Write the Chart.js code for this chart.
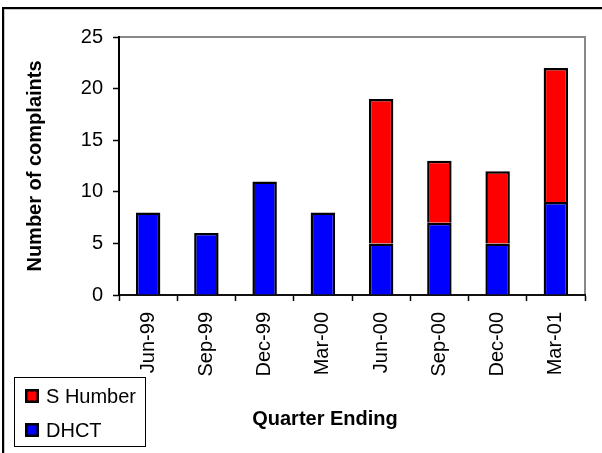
<!DOCTYPE html>
<html>
<head>
<meta charset="utf-8">
<script src="https://cdn.jsdelivr.net/npm/chart.js@4.4.0/dist/chart.umd.min.js"></script>
<style>
html,body{margin:0;padding:0;background:#fff;}
canvas{display:block;}
</style>
</head>
<body>
<canvas id="c" width="602" height="453"></canvas>
<script>
const categories = ['Jun-99','Sep-99','Dec-99','Mar-00','Jun-00','Sep-00','Dec-00','Mar-01'];
const dhctValues = [8, 6, 11, 8, 5, 7, 5, 9];
const sHumberValues = [null, null, null, null, 14, 6, 7, 13];
const seriesNames = ['DHCT', 'S Humber'];
const seriesColors = ['#0000FF', '#FF0000'];
const yTickValues = [0, 5, 10, 15, 20, 25];
const yTitle = 'Number of complaints';
const xTitle = 'Quarter Ending';

const FONT = "'Liberation Sans', Arial, Helvetica, sans-serif";
Chart.defaults.font.family = FONT;
Chart.defaults.font.size = 20;
Chart.defaults.color = '#000';

const decor = {
  id: 'decor',
  beforeDraw(chart) {
    const ctx = chart.ctx, ca = chart.chartArea;
    ctx.save();
    ctx.fillStyle = '#fff';
    ctx.fillRect(0, 0, chart.width, chart.height);
    // outer frame (top and left)
    ctx.fillStyle = '#000';
    ctx.fillRect(2, 7, 600, 2);
    ctx.fillRect(2, 7, 2, 446);
    ctx.fillStyle = '#c8c8c8';
    ctx.fillRect(4, 9, 598, 1);
    ctx.fillRect(4, 9, 1, 444);
    // plot area frame
    ctx.strokeStyle = '#888';
    ctx.lineWidth = 2;
    ctx.strokeRect(ca.left, ca.top, ca.right - ca.left, ca.bottom - ca.top);
    ctx.restore();
  },
  afterDraw(chart) {
    const ctx = chart.ctx;
    ctx.save();
    // x axis title
    ctx.font = 'bold 20px ' + FONT;
    ctx.fillStyle = '#000';
    ctx.textAlign = 'center';
    ctx.textBaseline = 'alphabetic';
    ctx.fillText(xTitle, 325, 425);
    // legend
    ctx.fillStyle = '#fff';
    ctx.fillRect(14, 377, 132, 70);
    ctx.strokeStyle = '#000';
    ctx.lineWidth = 1;
    ctx.strokeRect(14.5, 377.5, 131, 69);
    const ds = chart.data.datasets.slice().reverse();
    ds.forEach((d, i) => {
      const base = 403 + i * 34;
      ctx.fillStyle = d.backgroundColor;
      ctx.fillRect(25, base - 14, 14, 14);
      ctx.strokeStyle = '#000';
      ctx.lineWidth = 2.5;
      ctx.strokeRect(26.25, base - 12.75, 11.5, 11.5);
      ctx.fillStyle = '#000';
      ctx.font = '20px ' + FONT;
      ctx.textAlign = 'left';
      ctx.textBaseline = 'alphabetic';
      ctx.fillText(d.label, 46, base);
    });
    ctx.restore();
  }
};

new Chart(document.getElementById('c'), {
  type: 'bar',
  data: {
    labels: categories,
    datasets: [
      { label: seriesNames[0], data: dhctValues, backgroundColor: seriesColors[0], borderColor: '#000', borderWidth: 2.5 },
      { label: seriesNames[1], data: sHumberValues, backgroundColor: seriesColors[1], borderColor: '#000', borderWidth: 2.5 }
    ]
  },
  options: {
    responsive: false,
    animation: false,
    devicePixelRatio: 1,
    layout: { padding: { top: 37, right: 17, left: 0, bottom: 0 } },
    datasets: { bar: { categoryPercentage: 1.0, barPercentage: 0.42 } },
    plugins: { legend: { display: false }, tooltip: { enabled: false } },
    scales: {
      x: {
        stacked: true,
        grid: { display: true, drawOnChartArea: false, drawTicks: true, tickLength: 6, tickColor: '#000', tickWidth: 1.5, offset: true },
        border: { display: true, color: '#111', width: 2 },
        ticks: { maxRotation: 90, minRotation: 90, padding: 11, color: '#000', font: { size: 20 }, autoSkip: false },
        afterFit(scale) { scale.height = 158; }
      },
      y: {
        stacked: true,
        min: 0, max: 25,
        afterBuildTicks(scale) { scale.ticks = yTickValues.map(v => ({ value: v })); },
        grid: { display: true, drawOnChartArea: false, drawTicks: true, tickLength: 6, tickColor: '#000', tickWidth: 1.5 },
        border: { display: true, color: '#000', width: 2 },
        ticks: { padding: 10, color: '#000', font: { size: 20 } },
        title: { display: true, text: yTitle, color: '#000', font: { size: 20, weight: 'bold' }, padding: { top: 23, bottom: 0 } },
        afterFit(scale) { scale.width = 119; }
      }
    }
  },
  plugins: [decor]
});
</script>
</body>
</html>
